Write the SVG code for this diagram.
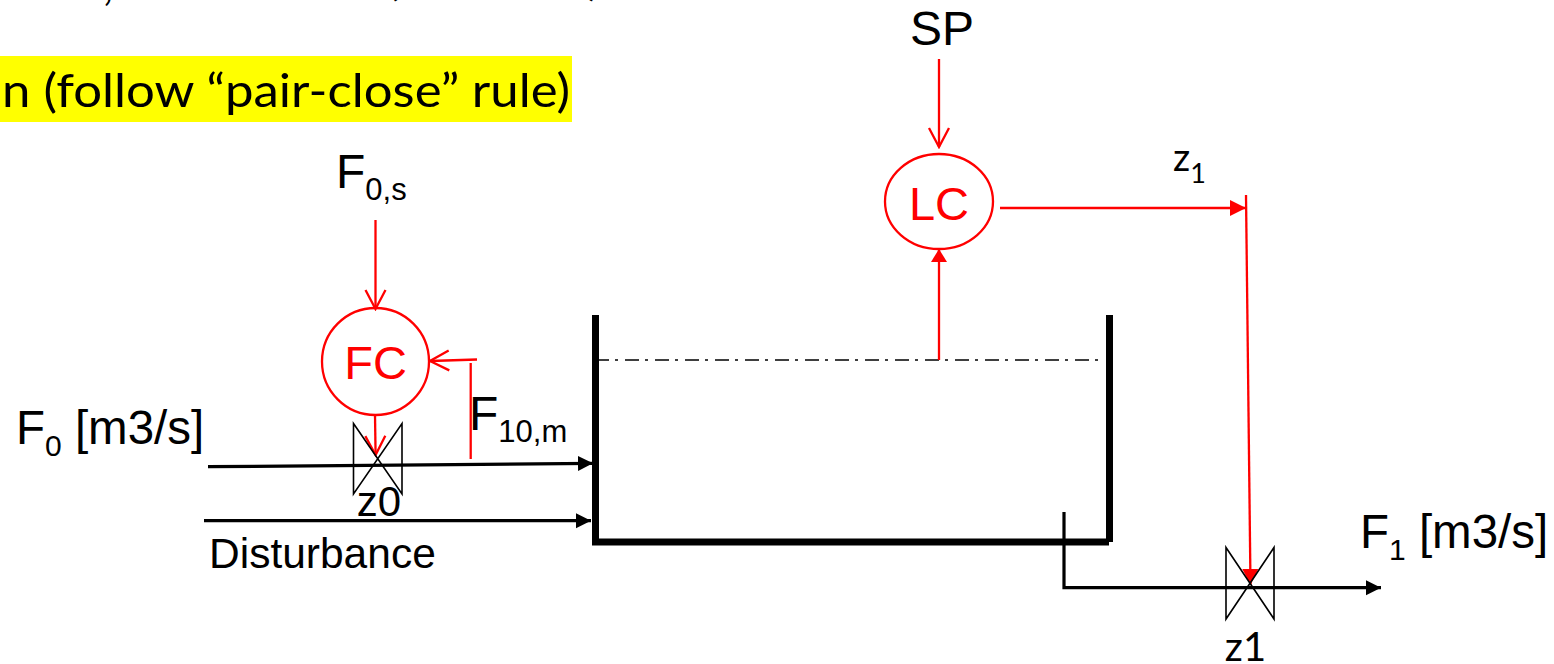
<svg xmlns="http://www.w3.org/2000/svg" width="1554" height="664" viewBox="0 0 1554 664">
<style>
text{font-family:"Liberation Sans",Arial,sans-serif;fill:#000}
.c{font-family:Lato,"Open Sans",sans-serif}
.r{stroke:#f00;stroke-width:2.300;fill:none}
.k{stroke:#000;stroke-width:3.200;fill:none}
.t{stroke:#000;stroke-width:7;fill:none}
.v{stroke:#000;stroke-width:1.600;fill:none}
.l{font-size:48px}
.s{font-size:31px}
.u{font-size:30px}
</style>
<defs>
<marker id="ko" markerUnits="userSpaceOnUse" markerWidth="16" markerHeight="16" refX="15" refY="8" orient="auto"><path d="M0 0.500L15 8L0 15.500Z" fill="#000"/></marker>
<marker id="ro" markerUnits="userSpaceOnUse" markerWidth="18" markerHeight="18" refX="16" refY="9" orient="auto"><path d="M0 1L16 9L0 17Z" fill="#f00"/></marker>
<marker id="rs" markerUnits="userSpaceOnUse" markerWidth="14" markerHeight="18" refX="13" refY="9" orient="auto"><path d="M0 1L13 9L0 17Z" fill="#f00"/></marker>
<marker id="ra" markerUnits="userSpaceOnUse" markerWidth="22" markerHeight="24" refX="20" refY="12" orient="auto"><path d="M1 2L20 12L1 22" fill="none" stroke="#f00" stroke-width="2.300"/></marker>
</defs>
<g id="heading">
<rect x="0" y="56" width="572" height="66" fill="#ff0"/>
<text class="c" x="2" y="107" font-size="47" textLength="568" lengthAdjust="spacingAndGlyphs">n (follow “pair-close” rule)</text>
<text class="c" x="103" y="0" font-size="44">,</text>
<text class="c" x="387" y="-5" font-size="44">(</text>
<text class="c" x="588" y="-5" font-size="44">)</text>
</g>
<g id="tank">
<path class="t" d="M595.500 315V542M592 542H1109M1109.500 315V542"/>
<path d="M595 360H1100" stroke="#000" stroke-width="1.500" fill="none" stroke-dasharray="14 6 3 7"/>
</g>
<g id="connectors">
<path class="r" d="M939 59V147" marker-end="url(#ra)"/>
<path class="r" d="M939 360V249" marker-end="url(#rs)"/>
<path class="r" d="M1000 208H1246" marker-end="url(#ro)"/>
<path class="r" d="M1246 195L1250.500 585" marker-end="url(#ro)"/>
<path class="r" d="M375.500 220V309" marker-end="url(#ra)"/>
<path class="r" d="M477 359.500L430 361" marker-end="url(#ra)"/>
<path class="r" d="M470.700 363V459"/>
<path class="r" d="M375 415L375.600 455" marker-end="url(#ra)"/>
<path class="k" d="M208 466.700L593 463.300" marker-end="url(#ko)"/>
<path class="k" d="M204 520.700H591" marker-end="url(#ko)"/>
<path class="k" d="M1064 512V587.700H1381" marker-end="url(#ko)"/>
</g>
<g id="FC">
<circle class="r" cx="375.500" cy="361.500" r="53.500"/>
<text x="375.500" y="379" font-size="47" text-anchor="middle" style="fill:#f00">FC</text>
</g>
<g id="LC">
<ellipse class="r" cx="939" cy="201.500" rx="54" ry="47.500"/>
<text x="939" y="220" font-size="47" text-anchor="middle" style="fill:#f00">LC</text>
</g>
<g id="valve-z0">
<path class="v" d="M353.500 423.500L402 494V423.500L353.500 494Z"/>
<text x="379" y="516" font-size="42" text-anchor="middle">z0</text>
</g>
<g id="valve-z1">
<path class="v" d="M1226 547.500L1274 619V547.500L1226 619Z"/>
<text class="c" x="1245.500" y="661" font-size="40" text-anchor="middle">z1</text>
</g>
<g id="labels">
<text x="910" y="45" class="l">SP</text>
<text x="336" y="188" class="l">F<tspan class="s" dy="12">0,s</tspan></text>
<text x="16" y="444" font-size="47.500">F<tspan class="u" dy="12">0</tspan><tspan dy="-12"> [m3/s]</tspan></text>
<text x="469" y="430" class="l">F<tspan class="s" dy="12">10,m</tspan></text>
<text x="209" y="568" font-size="42.500">Disturbance</text>
<text x="1360" y="548" font-size="47.500">F<tspan class="u" dy="12">1</tspan><tspan dy="-12"> [m3/s]</tspan></text>
<text class="c" x="1173" y="171" font-size="38">z<tspan font-size="27" dy="12">1</tspan></text>
</g>
</svg>
